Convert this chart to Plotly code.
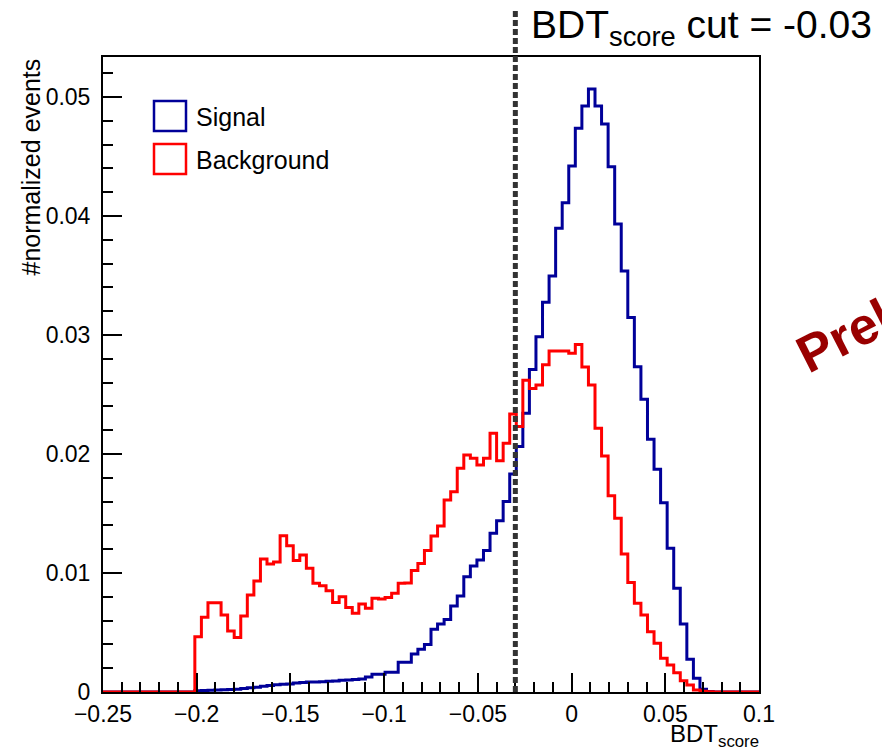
import plotly.graph_objects as go

# Histogram binning of the BDT score: 100 bins on [-0.25, 0.1]
X_MIN = -0.25
X_MAX = 0.10
N_BINS = 100
BIN_WIDTH = (X_MAX - X_MIN) / N_BINS
Y_MAX = 0.05336
CUT = -0.03

# normalized event yields per bin
signal = [
    0, 0, 0, 0, 0, 0, 0, 0, 0, 0,
    0, 0, 0, 0, 0.0001, 0.00012, 0.00014, 0.00016, 0.00018, 0.0002,
    0.00024, 0.0003, 0.00035, 0.0004, 0.00048, 0.00055, 0.0006, 0.00065, 0.00068, 0.00075,
    0.0008, 0.00085, 0.00083, 0.00087, 0.0009, 0.00092, 0.00098, 0.001, 0.00105, 0.0011,
    0.00125, 0.0015, 0.0015, 0.00165, 0.00165, 0.0025, 0.0025, 0.0032, 0.00359, 0.004,
    0.00527, 0.00571, 0.0061, 0.00723, 0.00807, 0.00969, 0.01059, 0.01109, 0.01188, 0.01333,
    0.0144, 0.016, 0.01832, 0.02062, 0.02342, 0.02711, 0.02986, 0.03275, 0.03496, 0.03896,
    0.04112, 0.0442, 0.04737, 0.04924, 0.05067, 0.04924, 0.04773, 0.04414, 0.03933, 0.03538,
    0.03146, 0.02734, 0.0246, 0.02123, 0.01871, 0.01591, 0.01207, 0.00871, 0.00571, 0.00275,
    0.00115, 0.00023, 0.00005, 0, 0, 0, 0, 0, 0, 0,
]

background = [
    0, 0, 0, 0, 0, 0, 0, 0, 0, 0,
    0, 0, 0, 0, 0.00465, 0.00628, 0.0075, 0.0075, 0.00647, 0.00513,
    0.00457, 0.00639, 0.00815, 0.00933, 0.01118, 0.01076, 0.01092, 0.01314, 0.0123, 0.01104,
    0.01151, 0.0104, 0.00913, 0.00893, 0.00851, 0.00753, 0.00801, 0.00711, 0.00661, 0.0074,
    0.00703, 0.00787, 0.00781, 0.00795, 0.00829, 0.00913, 0.00915, 0.0102, 0.0108, 0.0119,
    0.0131, 0.01395, 0.01613, 0.01683, 0.0188, 0.01992, 0.01964, 0.01908, 0.01964, 0.02174,
    0.01944, 0.0209, 0.02336, 0.0223, 0.0262, 0.0255, 0.0258, 0.0275, 0.02866, 0.02866,
    0.02866, 0.02846, 0.0292, 0.0273, 0.0258, 0.02216, 0.01983, 0.0165, 0.0146, 0.0116,
    0.0092, 0.00745, 0.00647, 0.00507, 0.00409, 0.00283, 0.00227, 0.00162, 0.00095, 0.00059,
    0.00017, 0.00006, 0.00003, 0, 0, 0, 0, 0, 0, 0,
]

x_tickvals = [-0.25, -0.2, -0.15, -0.1, -0.05, 0, 0.05, 0.1]
x_ticktext = ["\u22120.25", "\u22120.2", "\u22120.15", "\u22120.1", "\u22120.05", "0", "0.05", "0.1"]
y_tickvals = [0, 0.01, 0.02, 0.03, 0.04, 0.05]
y_ticktext = ["0", "0.01", "0.02", "0.03", "0.04", "0.05"]

SIGNAL_COLOR = "#000099"
BKG_COLOR = "#ff0000"
FONT = "Liberation Sans, Arial, Helvetica, sans-serif"

W, H = 882, 751
L, R, T, B = 103, 123, 57, 59


def px_to_paper(px, py):
    """Pixel position on the canvas -> paper coordinates of the plot area."""
    pw = W - L - R
    ph = H - T - B
    return (px - L) / pw, (H - B - py) / ph


edges = [X_MIN + i * BIN_WIDTH for i in range(N_BINS + 1)]


def step(values):
    return edges, list(values) + [values[-1]]


fig = go.Figure()
for vals, color, name in [(signal, SIGNAL_COLOR, "Signal"), (background, BKG_COLOR, "Background")]:
    xs, ys = step(vals)
    fig.add_trace(go.Scatter(
        x=xs, y=ys, mode="lines", name=name,
        line=dict(color=color, width=3, shape="hv"),
        showlegend=False, cliponaxis=True,
    ))

# vertical cut line, running above the frame
cut_paper = (CUT - X_MIN) / (X_MAX - X_MIN)
_, top_y = px_to_paper(0, 9)
fig.add_shape(type="line", xref="paper", yref="paper",
              x0=cut_paper, x1=cut_paper, y0=0, y1=top_y,
              line=dict(color="#333333", width=5, dash="6px,3px"), layer="above")

annotations = []
# cut label
lx, ly = px_to_paper(529, 28)
annotations.append(dict(
    xref="paper", yref="paper", x=lx, y=ly, xanchor="left", yanchor="middle",
    text="BDT<sub>score</sub> cut = -0.03", showarrow=False,
    font=dict(family=FONT, size=39, color="black"),
))

# legend entries
for i, (name, color) in enumerate([("Signal", SIGNAL_COLOR), ("Background", BKG_COLOR)]):
    top = 101 + i * 43
    x0, y0 = px_to_paper(154, top)
    x1, y1 = px_to_paper(186, top + 30)
    fig.add_shape(type="rect", xref="paper", yref="paper", x0=x0, x1=x1, y0=y1, y1=y0,
                  line=dict(color=color, width=2.5), fillcolor="rgba(0,0,0,0)")
    tx, ty = px_to_paper(194, top + 16)
    annotations.append(dict(
        xref="paper", yref="paper", x=tx, y=ty, xanchor="left", yanchor="middle",
        text=name, showarrow=False, font=dict(family=FONT, size=25, color="black"),
    ))

# axis titles
ax_, ay_ = px_to_paper(761, 718)
annotations.append(dict(
    xref="paper", yref="paper", x=ax_, y=ay_, xanchor="right", yanchor="top",
    text="BDT<sub>score</sub>", showarrow=False, font=dict(family=FONT, size=24, color="black"),
))
yx_, yy_ = px_to_paper(30, 57)
annotations.append(dict(
    xref="paper", yref="paper", x=yx_, y=yy_, xanchor="center", yanchor="top",
    text="#normalized events", textangle=-90, showarrow=False,
    font=dict(family=FONT, size=25, color="black"),
))

# preliminary stamp
px_, py_ = px_to_paper(926, 294)
annotations.append(dict(
    xref="paper", yref="paper", x=px_, y=py_, xanchor="center", yanchor="middle",
    text="<b>Preliminary</b>", textangle=-27, showarrow=False,
    font=dict(family=FONT, size=52, color="#990000"),
))

axis_common = dict(
    showline=True, linecolor="black", linewidth=2, mirror=True,
    ticks="inside", tickcolor="black", tickwidth=1.5, ticklen=19,
    showgrid=False, zeroline=False,
    tickfont=dict(family=FONT, size=23, color="black"),
)

fig.update_layout(
    width=W, height=H,
    margin=dict(l=L, r=R, t=T, b=B),
    paper_bgcolor="white", plot_bgcolor="white",
    showlegend=False,
    annotations=annotations,
    xaxis=dict(
        range=[X_MIN, X_MAX], tickmode="array", tickvals=x_tickvals, ticktext=x_ticktext,
        minor=dict(ticks="inside", ticklen=10, tickwidth=1.5, tickcolor="black",
                   tickmode="linear", tick0=0, dtick=0.01),
        ticklabelstandoff=0,
        **axis_common,
    ),
    yaxis=dict(
        range=[0, Y_MAX], tickmode="array", tickvals=y_tickvals, ticktext=y_ticktext,
        minor=dict(ticks="inside", ticklen=10, tickwidth=1.5, tickcolor="black",
                   tickmode="linear", tick0=0, dtick=0.002),
        ticklabelstandoff=6,
        **axis_common,
    ),
)

fig.write_html("out.html")
